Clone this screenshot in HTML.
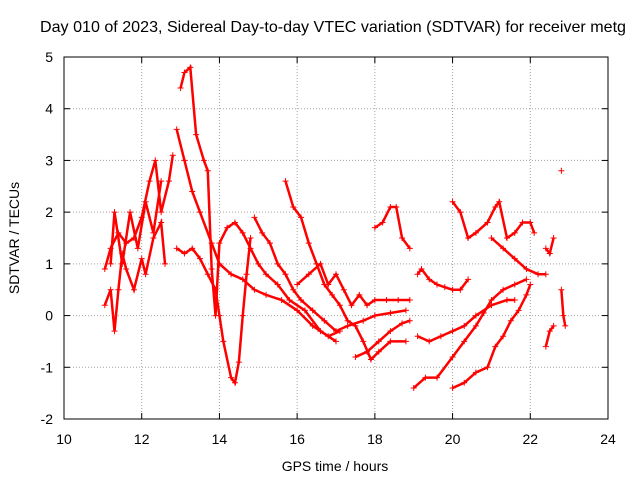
<!DOCTYPE html>
<html><head><meta charset="utf-8"><style>
body{margin:0;background:#fff;}
svg{display:block;font-family:"Liberation Sans",sans-serif;}
</style></head><body>
<svg id="chart" width="640" height="480">
<text x="333" y="32" text-anchor="middle" font-size="16" textLength="586" lengthAdjust="spacingAndGlyphs">Day 010 of 2023, Sidereal Day-to-day VTEC variation (SDTVAR) for receiver metg</text>
<text x="335" y="471" text-anchor="middle" font-size="14">GPS time / hours</text>
<text transform="translate(19,238) rotate(-90)" text-anchor="middle" font-size="14">SDTVAR / TECUs</text>
<g id="grid"></g><g id="marks"></g>
<rect x="64" y="57" width="544" height="362" fill="none" stroke="#000" stroke-width="1"/>
</svg>
<script>
const xTicks=[10,12,14,16,18,20,22,24];
const yTicks=[-2,-1,0,1,2,3,4,5];
const trackA1=[[11.05,0.9],[11.2,1.3],[11.4,1.6],[11.6,1.4],[11.8,1.5],[12.0,1.9],[12.2,2.6],[12.35,3.0],[12.5,2.0],[12.7,2.6],[12.8,3.1]];
const trackA2=[[11.05,0.2],[11.2,0.5],[11.3,-0.3],[11.4,0.5],[11.5,1.2],[11.6,0.9],[11.8,0.5],[12.0,1.1],[12.1,0.8],[12.3,1.5],[12.5,1.8],[12.6,1.0]];
const trackA3=[[11.2,1.0],[11.3,2.0],[11.5,1.0],[11.7,2.0],[11.9,1.3],[12.1,2.2],[12.3,1.6],[12.5,2.6]];
const trackB1=[[12.9,3.6],[13.1,3.0],[13.3,2.4],[13.5,2.0],[13.8,1.4],[14.0,1.0],[14.3,0.8],[14.6,0.7],[14.9,0.5],[15.2,0.4],[15.6,0.3],[16.0,0.1],[16.4,-0.2],[16.8,-0.4],[17.1,-0.3]];
const trackB2=[[13.0,4.4],[13.1,4.7],[13.25,4.8],[13.4,3.5],[13.6,3.0],[13.7,2.8],[13.8,0.9],[13.9,0.0],[14.0,1.4],[14.2,1.7],[14.4,1.8],[14.6,1.6],[14.8,1.3],[15.0,1.0],[15.2,0.8],[15.5,0.6],[15.8,0.3],[16.2,0.1],[16.6,-0.3],[17.0,-0.5]];
const trackB3=[[12.9,1.3],[13.1,1.2],[13.3,1.3],[13.5,1.1],[13.7,0.8],[13.9,0.5],[14.0,0.0],[14.1,-0.5],[14.3,-1.2],[14.4,-1.3],[14.5,-0.9],[14.6,0.0],[14.7,0.8],[14.8,1.5]];
const trackC=[[14.9,1.9],[15.1,1.6],[15.3,1.4],[15.5,1.0],[15.7,0.8],[15.9,0.5],[16.1,0.3],[16.4,0.1],[16.7,-0.1],[17.0,-0.3],[17.3,-0.2],[17.7,-0.1],[18.0,0.0],[18.4,0.05],[18.8,0.1]];
const trackD=[[15.7,2.6],[15.9,2.1],[16.1,1.9],[16.3,1.4],[16.5,1.0],[16.7,0.6],[16.9,0.4],[17.1,0.2],[17.3,-0.1],[17.5,-0.2],[17.7,-0.5],[17.9,-0.85],[18.1,-0.7],[18.4,-0.5],[18.8,-0.5]];
const trackE=[[16.0,0.6],[16.3,0.8],[16.6,1.0],[16.8,0.6],[17.0,0.8],[17.2,0.5],[17.4,0.2],[17.6,0.4],[17.8,0.2],[18.0,0.3],[18.3,0.3],[18.6,0.3],[18.9,0.3]];
const trackE2=[[17.5,-0.8],[17.8,-0.7],[18.1,-0.5],[18.4,-0.3],[18.7,-0.15],[18.9,-0.1]];
const trackF=[[18.0,1.7],[18.2,1.8],[18.4,2.1],[18.55,2.1],[18.7,1.5],[18.9,1.3]];
const trackG=[[19.1,0.8],[19.2,0.9],[19.4,0.7],[19.6,0.6],[19.8,0.55],[20.0,0.5],[20.2,0.5],[20.4,0.7]];
const trackG3=[[19.1,-0.4],[19.4,-0.5],[19.7,-0.4],[20.0,-0.3],[20.3,-0.2],[20.6,0.0],[21.0,0.2],[21.4,0.3],[21.6,0.3]];
const trackG4=[[19.0,-1.4],[19.3,-1.2],[19.6,-1.2],[20.0,-0.8],[20.3,-0.5],[20.6,-0.2],[20.8,0.05],[21.0,0.3],[21.3,0.5],[21.6,0.6],[21.9,0.7]];
const trackH=[[20.0,-1.4],[20.3,-1.3],[20.6,-1.1],[20.9,-1.0],[21.1,-0.6],[21.3,-0.4],[21.5,-0.1],[21.7,0.1],[21.9,0.4],[22.0,0.6]];
const trackI=[[20.0,2.2],[20.2,2.0],[20.4,1.5],[20.6,1.6],[20.9,1.8],[21.1,2.1],[21.2,2.2],[21.4,1.5],[21.6,1.6],[21.8,1.8],[22.0,1.8],[22.1,1.6]];
const trackJ=[[21.0,1.5],[21.3,1.3],[21.6,1.1],[21.9,0.9],[22.2,0.8],[22.4,0.8]];
const trackK1=[[22.4,1.3],[22.5,1.2],[22.6,1.5]];
const trackK2=[[22.4,-0.6],[22.5,-0.3],[22.6,-0.2]];
const trackK3=[[22.8,0.5],[22.85,0.0],[22.9,-0.2]];
const trackK4=[[22.8,2.8]];
const tracks=[trackA1,trackA2,trackA3,trackB1,trackB2,trackB3,trackC,trackD,trackE,trackE2,trackF,trackG,trackG3,trackG4,trackH,trackI,trackJ,trackK1,trackK2,trackK3,trackK4];
const X=t=>64+(t-10)*(544/14);
const Y=v=>419-(v+2)*(362/7);
const NS="http://www.w3.org/2000/svg";
const grid=document.getElementById('grid'),marks=document.getElementById('marks');
function mk(tag,a,p){const e=document.createElementNS(NS,tag);for(const k in a)e.setAttribute(k,a[k]);p.appendChild(e);return e;}
xTicks.forEach(t=>{const x=X(t);
 if(t>10&&t<24){const g=mk('line',{x1:x,x2:x,y1:57,y2:419,stroke:'#a0a0a0','stroke-dasharray':'1,2'},grid);
 
 }
 mk('line',{x1:x,x2:x,y1:419,y2:413,stroke:'#000'},grid);mk('line',{x1:x,x2:x,y1:57,y2:63,stroke:'#000'},grid);
 const l=mk('text',{x:x,y:444,'text-anchor':'middle','font-size':14},grid);l.textContent=t;
 
 });
yTicks.forEach(v=>{const y=Y(v);
 if(v>-2&&v<5){const g=mk('line',{x1:64,x2:608,y1:y,y2:y,stroke:'#a0a0a0','stroke-dasharray':'1,2'},grid);
 
 }
 mk('line',{x1:64,x2:70,y1:y,y2:y,stroke:'#000'},grid);mk('line',{x1:608,x2:602,y1:y,y2:y,stroke:'#000'},grid);
 const l=mk('text',{x:53,y:y+5,'text-anchor':'end','font-size':14},grid);l.textContent=v;
 
 });
tracks.forEach(tr=>{
 const pl=mk('polyline',{points:tr.map(p=>X(p[0])+','+Y(p[1])).join(' '),fill:'none',stroke:'#ff0000','stroke-width':2.5},marks);
 
 
 tr.forEach(p=>{const x=X(p[0]),y=Y(p[1]);
  const c=mk('path',{d:`M${x-3},${y}H${x+3}M${x},${y-3}V${y+3}`,stroke:'#ff0000','stroke-width':1},marks);
  
  });
});
</script>
</body></html>
